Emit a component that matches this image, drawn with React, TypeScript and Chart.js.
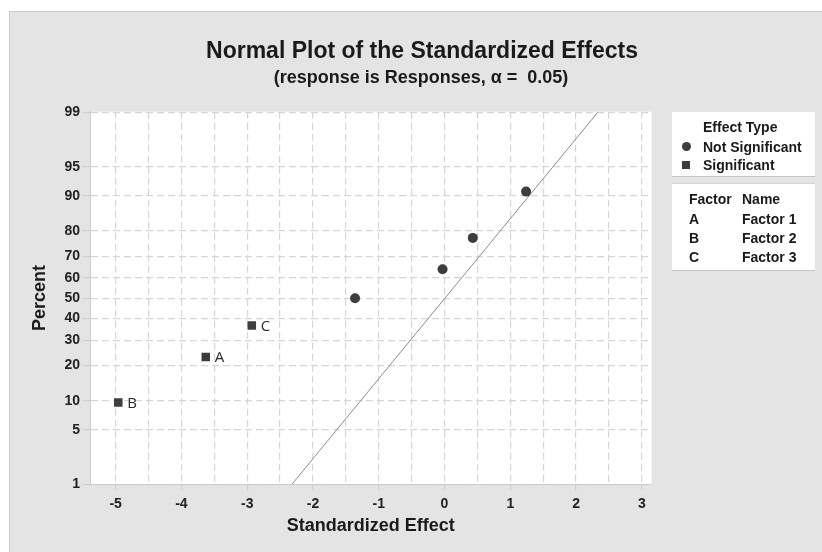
import React, { useEffect, useRef } from 'react';
import { Chart, registerables } from 'chart.js';

Chart.register(...registerables);

// ---- data ----
const percentTicks = [1, 5, 10, 20, 30, 40, 50, 60, 70, 80, 90, 95, 99];
const effectTicks = [-5, -4.5, -4, -3.5, -3, -2.5, -2, -1.5, -1, -0.5, 0, 0.5, 1, 1.5, 2, 2.5, 3];
const significantFactors = ['B', 'A', 'C'];
const significantEffects = [-4.96, -3.63, -2.93];
const significantPercents = [9.6, 23.1, 36.7];
const notSignificantEffects = [-1.36, -0.03, 0.43, 1.24];
const notSignificantPercents = [50, 64.2, 77.5, 90.9];
const fitLineEffects = [-2.32, 2.33];
const fitLinePercents = [1, 99];
const legendFactors = ['A', 'B', 'C'];
const legendNames = ['Factor 1', 'Factor 2', 'Factor 3'];

// inverse standard normal CDF (Acklam)
function probit(p: number): number {
  const a = [-3.969683028665376e1, 2.209460984245205e2, -2.759285104469687e2, 1.38357751867269e2, -3.066479806614716e1, 2.506628277459239];
  const b = [-5.447609879822406e1, 1.615858368580409e2, -1.556989798598866e2, 6.680131188771972e1, -1.328068155288572e1];
  const c = [-7.784894002430293e-3, -3.223964580411365e-1, -2.400758277161838, -2.549732539343734, 4.374664141464968, 2.938163982698783];
  const d = [7.784695709041462e-3, 3.224671290700398e-1, 2.445134137142996, 3.754408661907416];
  const pl = 0.02425;
  const ph = 1 - pl;
  let q: number;
  let r: number;
  if (p < pl) {
    q = Math.sqrt(-2 * Math.log(p));
    return (((((c[0] * q + c[1]) * q + c[2]) * q + c[3]) * q + c[4]) * q + c[5]) / ((((d[0] * q + d[1]) * q + d[2]) * q + d[3]) * q + 1);
  }
  if (p <= ph) {
    q = p - 0.5;
    r = q * q;
    return ((((((a[0] * r + a[1]) * r + a[2]) * r + a[3]) * r + a[4]) * r + a[5]) * q) / (((((b[0] * r + b[1]) * r + b[2]) * r + b[3]) * r + b[4]) * r + 1);
  }
  q = Math.sqrt(-2 * Math.log(1 - p));
  return -(((((c[0] * q + c[1]) * q + c[2]) * q + c[3]) * q + c[4]) * q + c[5]) / ((((d[0] * q + d[1]) * q + d[2]) * q + d[3]) * q + 1);
}
const z = (pct: number) => probit(pct / 100);

const FONT = '"Liberation Sans", Arial, sans-serif';
const MARK = '#3d3d3d';
const TEXT = '#1a1a1a';

const plotBackgroundPlugin = {
  id: 'plotBackground',
  beforeDraw(chart: any) {
    const { ctx, chartArea } = chart;
    ctx.save();
    ctx.fillStyle = '#ffffff';
    ctx.fillRect(chartArea.left, chartArea.top, chartArea.right - chartArea.left, chartArea.bottom - chartArea.top);
    ctx.restore();
  },
};

const pointLabelPlugin = {
  id: 'pointLabels',
  afterDatasetsDraw(chart: any) {
    const meta = chart.getDatasetMeta(1);
    const ctx = chart.ctx;
    ctx.save();
    ctx.font = '15px "Open Sans", "DejaVu Sans", sans-serif';
    ctx.fillStyle = '#2a2a2a';
    ctx.textBaseline = 'middle';
    ctx.textAlign = 'left';
    meta.data.forEach((el: any, i: number) => {
      ctx.fillText(significantFactors[i], el.x + 9, el.y + 1);
    });
    ctx.restore();
  },
};

export default function App() {
  const canvasRef = useRef<HTMLCanvasElement | null>(null);

  useEffect(() => {
    if (!canvasRef.current) return;
    const chart = new Chart(canvasRef.current, {
      type: 'scatter',
      data: {
        datasets: [
          {
            label: 'Not Significant',
            data: notSignificantEffects.map((x, i) => ({ x, y: z(notSignificantPercents[i]) })),
            pointStyle: 'circle',
            pointRadius: 5,
            pointHoverRadius: 5,
            backgroundColor: MARK,
            borderColor: MARK,
            borderWidth: 0,
          },
          {
            label: 'Significant',
            data: significantEffects.map((x, i) => ({ x, y: z(significantPercents[i]) })),
            pointStyle: 'rect',
            pointRadius: 6,
            pointHoverRadius: 6,
            backgroundColor: MARK,
            borderColor: MARK,
            borderWidth: 0,
          },
          {
            label: 'Fit',
            data: fitLineEffects.map((x, i) => ({ x, y: z(fitLinePercents[i]) })),
            showLine: true,
            pointRadius: 0,
            borderColor: '#8c8c8c',
            borderWidth: 1,
            backgroundColor: 'transparent',
          },
        ],
      },
      options: {
        animation: false,
        responsive: true,
        maintainAspectRatio: false,
        layout: { padding: { left: 0, right: 170.3, top: 111.7, bottom: 0 } },
        plugins: {
          legend: { display: false },
          tooltip: { enabled: false },
          title: { display: false },
        },
        scales: {
          x: {
            type: 'linear',
            position: 'bottom',
            min: -5.39,
            max: 3.15,
            afterBuildTicks: (scale: any) => {
              scale.ticks = effectTicks.map((v) => ({ value: v }));
            },
            afterFit: (scale: any) => {
              scale.height = 67.5;
            },
            ticks: {
              autoSkip: false,
              maxRotation: 0,
              padding: 6,
              color: '#222222',
              font: { family: FONT, size: 14, weight: 'bold' },
              callback: (v: any) => (Number.isInteger(v) ? String(v) : ''),
            },
            grid: {
              color: '#d6d6d6',
              lineWidth: 1.2,
              tickLength: 5,
              tickColor: (ctx: any) => (ctx.tick && Number.isInteger(ctx.tick.value) ? '#cfcfcf' : 'rgba(0,0,0,0)'),
            },
            border: { display: true, color: '#cccccc', dash: [7, 4] },
            title: {
              display: true,
              text: 'Standardized Effect',
              color: TEXT,
              font: { family: FONT, size: 18, weight: 'bold' },
              padding: { top: 0, bottom: 15 },
            },
          },
          y: {
            type: 'linear',
            min: -2.329,
            max: 2.334,
            afterBuildTicks: (scale: any) => {
              scale.ticks = percentTicks.map((p) => ({ value: z(p) }));
            },
            afterFit: (scale: any) => {
              scale.width = 90;
            },
            ticks: {
              autoSkip: false,
              padding: 3,
              color: '#222222',
              font: { family: FONT, size: 14, weight: 'bold' },
              callback: (_v: any, i: number) => String(percentTicks[i]),
            },
            grid: {
              color: '#d6d6d6',
              lineWidth: 1.2,
              tickLength: 7,
              tickColor: '#cfcfcf',
            },
            border: { display: true, color: '#cccccc', dash: [7, 4] },
            title: {
              display: true,
              text: 'Percent',
              color: TEXT,
              font: { family: FONT, size: 18, weight: 'bold' },
              padding: { top: 29, bottom: 0 },
            },
          },
        },
      } as any,
      plugins: [plotBackgroundPlugin, pointLabelPlugin],
    });
    return () => chart.destroy();
  }, []);

  const txt: React.CSSProperties = {
    position: 'absolute',
    fontFamily: FONT,
    fontWeight: 'bold',
    fontSize: 14,
    lineHeight: '14px',
    color: TEXT,
    whiteSpace: 'nowrap',
  };
  const rowY = [218, 237, 256];

  return (
    <div>
      <div
        style={{
          position: 'fixed',
          left: 9,
          top: 11,
          right: 0,
          bottom: 0,
          background: '#e4e4e4',
          borderTop: '1px solid #cdcdcd',
          borderLeft: '1px solid #cdcdcd',
        }}
      />
      <div style={{ position: 'fixed', left: 0, top: 0, width: 822, height: 552 }}>
        <canvas ref={canvasRef} />
      </div>
      <div style={{ position: 'fixed', left: 0, top: 0, width: 822, height: 552, pointerEvents: 'none' }}>
        <div
          style={{
            position: 'absolute',
            left: 422,
            top: 39,
            transform: 'translateX(-50%)',
            fontFamily: FONT,
            fontWeight: 'bold',
            fontSize: 23,
            lineHeight: '23px',
            color: TEXT,
            whiteSpace: 'nowrap',
          }}
        >
          Normal Plot of the Standardized Effects
        </div>
        <div
          style={{
            position: 'absolute',
            left: 421,
            top: 68,
            transform: 'translateX(-50%)',
            fontFamily: FONT,
            fontWeight: 'bold',
            fontSize: 18,
            lineHeight: '18px',
            color: TEXT,
            whiteSpace: 'pre',
          }}
        >
          {'(response is Responses, α =  0.05)'}
        </div>

        <div
          style={{
            position: 'absolute',
            left: 672,
            top: 112,
            width: 143,
            height: 64,
            background: '#ffffff',
            borderBottom: '1px solid #c4c4c4',
          }}
        >
          <div style={{ ...txt, left: 31, top: 8 }}>Effect Type</div>
          <div
            style={{ position: 'absolute', left: 9.5, top: 30, width: 9, height: 9, borderRadius: '50%', background: MARK }}
          />
          <div style={{ ...txt, left: 31, top: 28 }}>Not Significant</div>
          <div style={{ position: 'absolute', left: 10, top: 49, width: 8, height: 8, background: MARK }} />
          <div style={{ ...txt, left: 31, top: 46 }}>Significant</div>
        </div>

        <div
          style={{
            position: 'absolute',
            left: 672,
            top: 183,
            width: 143,
            height: 86,
            background: '#ffffff',
            borderTop: '1px solid #d4d4d4',
            borderBottom: '1px solid #c4c4c4',
          }}
        >
          <div style={{ ...txt, left: 17, top: 8 }}>Factor</div>
          <div style={{ ...txt, left: 70, top: 8 }}>Name</div>
          {legendFactors.map((f, i) => (
            <React.Fragment key={f}>
              <div style={{ ...txt, left: 17, top: rowY[i] - 183 - 7 }}>{f}</div>
              <div style={{ ...txt, left: 70, top: rowY[i] - 183 - 7 }}>{legendNames[i]}</div>
            </React.Fragment>
          ))}
        </div>
      </div>
    </div>
  );
}
